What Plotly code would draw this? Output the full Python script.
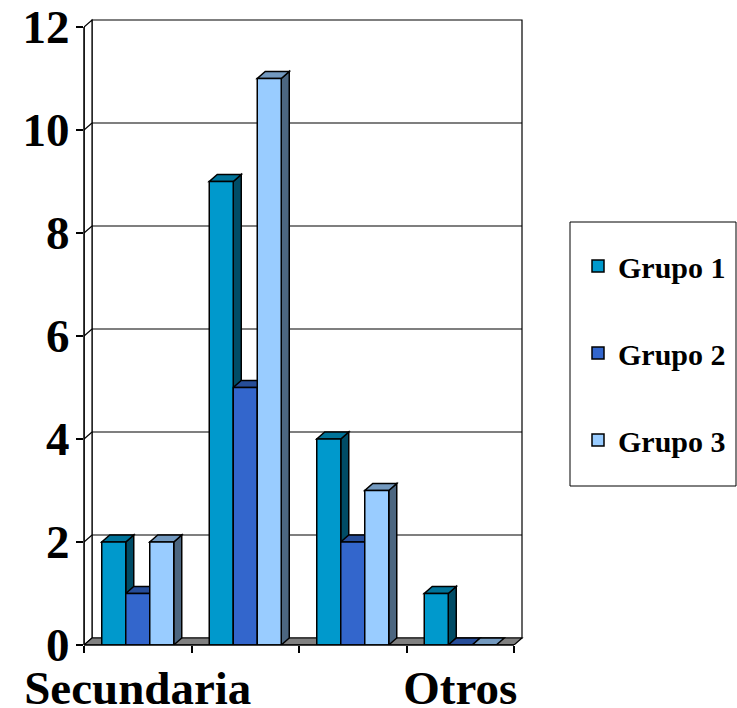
import plotly.graph_objects as go

# Data
categories = ["Secundaria", "", "", "Otros"]
series_names = ["Grupo 1", "Grupo 2", "Grupo 3"]
grupo1 = [2, 9, 4, 1]
grupo2 = [1, 5, 2, 0]
grupo3 = [2, 11, 3, 0]
y_ticks = [0, 2, 4, 6, 8, 10, 12]

series_values = [grupo1, grupo2, grupo3]
front_colors = ["#0099CC", "#3366CC", "#99CCFF"]
top_colors = ["#007399", "#264D99", "#7399BF"]
side_colors = ["#004C66", "#193366", "#4C6680"]

# Geometry of the pseudo-3D look (in axis units)
X_UNIT_PX = 107.5
Y_UNIT_PX = 51.5
DX = 8 / X_UNIT_PX          # depth offset to the right
DY = 7 / Y_UNIT_PX          # depth offset upwards
BAR_W = 24 / X_UNIT_PX
Y_MAX = 12
N_CAT = len(categories)
X_LO, X_HI = -0.5, N_CAT - 0.5
PAD_X = 2 / X_UNIT_PX
PAD_Y = 2 / Y_UNIT_PX

LINE = dict(color="black", width=1.5)


def poly(pts):
    return "M " + " L ".join(f"{x},{y}" for x, y in pts) + " Z"


shapes = []
# back wall
shapes.append(dict(type="rect", xref="x", yref="y", layer="below",
                   x0=X_LO + DX, x1=X_HI + DX, y0=DY, y1=Y_MAX + DY,
                   fillcolor="white", line=dict(color="black", width=1.2)))
# left wall
shapes.append(dict(type="path", xref="x", yref="y", layer="below",
                   path=poly([(X_LO, 0), (X_LO + DX, DY), (X_LO + DX, Y_MAX + DY), (X_LO, Y_MAX)]),
                   fillcolor="white", line=dict(color="black", width=1.2)))
# gridlines on the back wall and the left wall
for t in y_ticks[1:-1]:
    shapes.append(dict(type="line", xref="x", yref="y", layer="below",
                       x0=X_LO + DX, x1=X_HI + DX, y0=t + DY, y1=t + DY,
                       line=dict(color="black", width=1.2)))
    shapes.append(dict(type="line", xref="x", yref="y", layer="below",
                       x0=X_LO, x1=X_LO + DX, y0=t, y1=t + DY,
                       line=dict(color="black", width=1.2)))
# floor
shapes.append(dict(type="path", xref="x", yref="y", layer="below",
                   path=poly([(X_LO, 0), (X_HI, 0), (X_HI + DX, DY), (X_LO + DX, DY)]),
                   fillcolor="#808080", line=dict(color="black", width=1.2)))

# depth faces (sides and tops) of every bar
for c in range(N_CAT):
    for i, vals in enumerate(series_values):
        v = vals[c]
        x0 = c - 1.5 * BAR_W + i * BAR_W
        x1 = x0 + BAR_W
        if v > 0:
            shapes.append(dict(type="path", xref="x", yref="y", layer="below",
                               path=poly([(x1, 0), (x1 + DX, DY), (x1 + DX, v + DY), (x1, v)]),
                               fillcolor=side_colors[i], line=LINE))
        shapes.append(dict(type="path", xref="x", yref="y", layer="below",
                           path=poly([(x0, v), (x1, v), (x1 + DX, v + DY), (x0 + DX, v + DY)]),
                           fillcolor=top_colors[i], line=LINE))

# front axis lines
shapes.append(dict(type="line", xref="paper", yref="y", x0=0, x1=0, y0=0, y1=Y_MAX,
                   line=LINE, layer="above"))
shapes.append(dict(type="line", xref="x", yref="paper", x0=X_LO, x1=X_HI, y0=0, y1=0,
                   line=LINE, layer="above"))

# legend frame
shapes.append(dict(type="rect", xref="paper", yref="paper",
                   x0=(570 - 84) / 440, x1=(736 - 84) / 440,
                   y0=(645 - 486) / 627, y1=(645 - 222) / 627,
                   line=dict(color="black", width=1), fillcolor="rgba(0,0,0,0)"))

fig = go.Figure()
for i, (name, vals) in enumerate(zip(series_names, series_values)):
    fig.add_trace(go.Bar(
        x=list(range(N_CAT)), y=vals, name=name,
        width=BAR_W, offset=-1.5 * BAR_W + i * BAR_W,
        marker=dict(color=front_colors[i], line=dict(color="black", width=1.5)),
        legendgroup=name, hoverinfo="x+y+name",
    ))

font_family = "Liberation Serif, Times New Roman, serif"

fig.update_layout(
    width=737, height=708,
    template="none",
    paper_bgcolor="white", plot_bgcolor="rgba(0,0,0,0)",
    margin=dict(l=84, r=737 - 524, t=18, b=63, autoexpand=False),
    barmode="overlay",
    shapes=shapes,
    showlegend=True,
    legend=dict(
        x=(578 - 84) / 440, y=(645 - 240) / 627, xanchor="left", yanchor="top",
        font=dict(family=font_family, size=30, color="black", weight="bold"),
        bgcolor="rgba(0,0,0,0)", borderwidth=0,
        tracegroupgap=45,
    ),
    xaxis=dict(
        range=[X_LO, X_HI + DX + PAD_X],
        tickvals=[0, 3], ticktext=[categories[0], categories[3]],
        ticks="", showgrid=False, zeroline=False, showline=False,
        automargin=False, fixedrange=True,
        tickfont=dict(family=font_family, size=47, color="black", weight="bold"),
        ticklabelstandoff=11,
        minor=dict(tickvals=[X_LO + k for k in range(N_CAT + 1)], ticks="outside",
                   ticklen=7, tickwidth=1.5, tickcolor="black", showgrid=False),
    ),
    yaxis=dict(
        range=[0, Y_MAX + DY + PAD_Y],
        tickvals=y_ticks, ticks="outside", ticklen=7, tickwidth=1.5, tickcolor="black",
        showgrid=False, zeroline=False, showline=False, automargin=False, fixedrange=True,
        tickfont=dict(family=font_family, size=47, color="black", weight="bold"),
        ticklabelstandoff=-3,
    ),
)

fig.write_html("out.html")
